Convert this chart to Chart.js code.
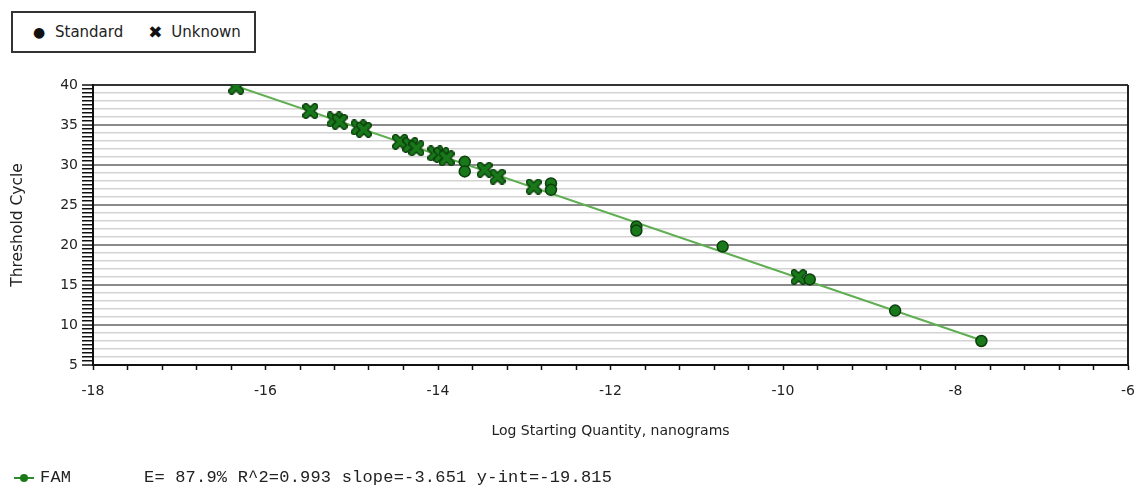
<!DOCTYPE html>
<html>
<head>
<meta charset="utf-8">
<script src="https://cdn.jsdelivr.net/npm/chart.js@4/dist/chart.umd.min.js"></script>
<style>
  html, body { margin: 0; padding: 0; background: #fff; }
  #wrap { position: relative; width: 1137px; height: 486px; }
  #chart { position: absolute; left: 0; top: 0; }
  #legend {
    position: absolute; left: 11px; top: 11px; width: 241px; height: 38px;
    border: 2px solid #333; background: #fff;
    font: 15px "DejaVu Sans", sans-serif; color: #222;
    display: flex; align-items: center;
  }
  #legend .mk { display: inline-block; width: 16px; text-align: center; color: #111; }
  #legend .dot { margin-left: 18px; font-size: 14px; }
  #legend .x { margin-left: 24px; font-size: 17px; }
  #legend .lbl { margin-left: 8px; }
  #fam {
    position: absolute; left: 14px; top: 468px;
    font: 17px "Liberation Mono", "DejaVu Sans Mono", monospace; color: #222;
    white-space: pre; letter-spacing: 0.2px;
  }
  #fam .sw { display: inline-block; position: relative; width: 20px; height: 2px; background: #2e8b2e; vertical-align: middle; margin-right: 6px; }
  #fam .sw::after { content: ""; position: absolute; left: 6px; top: -3px; width: 8px; height: 8px; border-radius: 50%; background: #1a7a1a; }
</style>
</head>
<body>
<div id="wrap">
  <canvas id="chart" width="1137" height="486"></canvas>
  <div id="legend">
    <span class="mk dot">&#9679;</span><span class="lbl">Standard</span>
    <span class="mk x">&#10006;</span><span class="lbl">Unknown</span>
  </div>
  <div id="fam"><span class="sw"></span>FAM       E= 87.9% R^2=0.993 slope=-3.651 y-int=-19.815</div>
</div>
<script>
// standards (circles)
const standardX = [-13.69, -13.69, -12.69, -12.69, -11.70, -11.70, -10.70, -9.69, -8.70, -7.70];
const standardY = [30.4, 29.2, 27.7, 26.9, 22.3, 21.8, 19.8, 15.7, 11.8, 8.0];

// unknowns (crosses)
const unknownX = [-16.34, -15.48, -15.20, -15.14, -14.92, -14.86, -14.44, -14.32, -14.25, -14.03, -13.96, -13.90, -13.46, -13.31, -12.89, -9.82];
const unknownY = [39.8, 36.75, 35.7, 35.4, 34.7, 34.4, 32.9, 32.5, 32.1, 31.45, 31.25, 30.85, 29.4, 28.55, 27.3, 16.0];

// fitted line end points
const fitX = [-16.35, -7.70];
const fitY = [39.9, 8.1];

const xLabels = [-18, -16, -14, -12, -10, -8, -6];
const yLabels = [5, 10, 15, 20, 25, 30, 35, 40];

const toPts = (xs, ys) => xs.map((x, i) => ({ x, y: ys[i] }));
const near = (v, list) => list.some(l => Math.abs(v - l) < 1e-6);

function makeCross(size) {
  const c = document.createElement('canvas');
  c.width = c.height = size;
  const g = c.getContext('2d');
  const p = 3.5, q = size - 3.5;
  g.lineCap = 'round';
  g.beginPath();
  g.moveTo(p, p); g.lineTo(q, q);
  g.moveTo(q, p); g.lineTo(p, q);
  g.strokeStyle = '#0c3f0c'; g.lineWidth = 7; g.stroke();
  g.strokeStyle = '#18781a'; g.lineWidth = 4.2; g.stroke();
  return c;
}
const crossImg = makeCross(16);

// right border of the plot
const frame = {
  id: 'frame',
  afterDraw(chart) {
    const { ctx, chartArea: a } = chart;
    ctx.save();
    ctx.strokeStyle = '#222';
    ctx.lineWidth = 2;
    ctx.beginPath();
    ctx.moveTo(a.right, a.top); ctx.lineTo(a.right, a.bottom);
    ctx.stroke();
    ctx.restore();
  }
};

const tickFont = { family: 'DejaVu Sans', size: 14 };

new Chart(document.getElementById('chart'), {
  type: 'scatter',
  data: {
    datasets: [
      {
        type: 'line', label: 'fit', data: toPts(fitX, fitY),
        borderColor: '#5fae52', borderWidth: 2, pointRadius: 0, order: 3
      },
      {
        label: 'Standard', data: toPts(standardX, standardY),
        pointStyle: 'circle', pointRadius: 5.5,
        backgroundColor: '#18781a', borderColor: '#0c3f0c', borderWidth: 1.5, order: 1
      },
      {
        label: 'Unknown', data: toPts(unknownX, unknownY),
        pointStyle: crossImg, order: 2
      }
    ]
  },
  options: {
    responsive: false,
    animation: false,
    events: [],
    layout: { padding: { left: 0, top: 85, right: 9, bottom: 41 } },
    plugins: { legend: { display: false }, tooltip: { enabled: false } },
    scales: {
      x: {
        type: 'linear', min: -18, max: -6,
        afterFit: s => { s.height = 80; s.paddingRight = 0; s.paddingLeft = 0; },
        ticks: {
          stepSize: 0.4, autoSkip: false, maxRotation: 0, padding: 13,
          color: '#222', font: tickFont,
          callback: v => near(v, xLabels) ? String(Math.round(v)) : ''
        },
        grid: { drawOnChartArea: false, tickColor: '#111', tickLength: 5, tickWidth: 1.5 },
        border: { color: '#111', width: 2 },
        title: {
          display: true, text: 'Log Starting Quantity, nanograms',
          color: '#222', font: { family: 'DejaVu Sans', size: 14 },
          padding: { top: 0, bottom: 5 }
        }
      },
      y: {
        min: 5, max: 40,
        afterFit: s => { s.width = 93; },
        ticks: {
          stepSize: 0.5, autoSkip: false, padding: 4,
          color: '#222', font: tickFont,
          callback: v => near(v, yLabels) ? String(v) : ''
        },
        grid: {
          color: c => {
            const v = c.tick.value;
            if (v === 40) return '#333';
            if (v % 5 === 0) return '#8a8a8a';
            if (Number.isInteger(v)) return '#d3d3d3';
            return 'rgba(0,0,0,0)';
          },
          lineWidth: c => (c.tick.value % 5 === 0 ? 2 : 1.5),
          tickColor: '#111', tickLength: 11, tickWidth: 1.5
        },
        border: { color: '#111', width: 2 },
        title: {
          display: true, text: 'Threshold Cycle',
          color: '#222', font: { family: 'DejaVu Sans', size: 15.5 },
          padding: { top: 9, bottom: 0 }
        }
      }
    }
  },
  plugins: [frame]
});
</script>
</body>
</html>
